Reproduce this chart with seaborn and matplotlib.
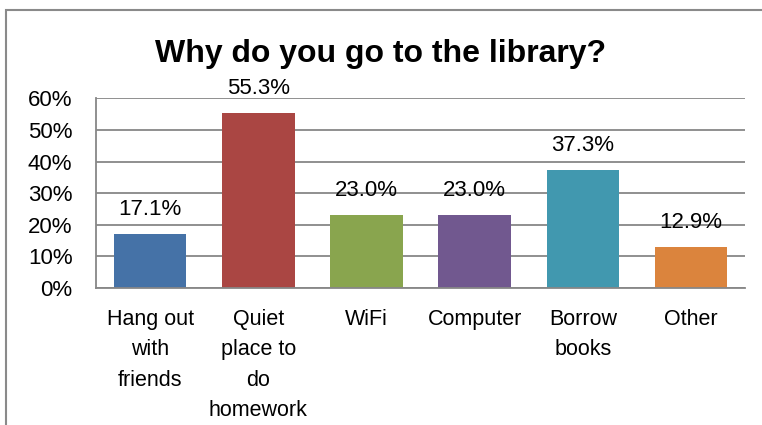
import numpy as np
import pandas as pd
import matplotlib
matplotlib.use("Agg")
import matplotlib.pyplot as plt
import seaborn as sns
from matplotlib.patches import Rectangle

# chart data
categories = ["Hang out\nwith\nfriends", "Quiet\nplace to\ndo\nhomework", "WiFi",
              "Computer", "Borrow\nbooks", "Other"]
percent = [17.1, 55.3, 23.0, 23.0, 37.3, 12.9]
bar_colors = ["#4572A7", "#AA4643", "#89A54E", "#71588F", "#4198AF", "#DB843D"]
y_ticks = [0, 10, 20, 30, 40, 50, 60]

df = pd.DataFrame({"reason": categories, "pct": percent})

sns.set_style("white")
plt.rcParams["font.family"] = ["Liberation Sans", "DejaVu Sans"]
plt.rcParams["text.color"] = "black"
plt.rcParams["xtick.labelcolor"] = "black"
plt.rcParams["ytick.labelcolor"] = "black"

fig = plt.figure(figsize=(7.62, 4.25), dpi=100)
ax = fig.add_axes([0.126, 0.322, 0.852, 0.447])

sns.barplot(data=df, x="reason", y="pct", hue="reason", palette=bar_colors,
            legend=False, width=0.67, saturation=1, linewidth=0, ax=ax)

grid_col = "#878787"
ax.set_ylim(0, 60)
ax.set_xlim(-0.5, len(categories) - 0.5)
ax.set_yticks(y_ticks)
ax.set_yticklabels([f"{t}%" for t in y_ticks], fontsize=16)
ax.yaxis.grid(True, color=grid_col, linewidth=1.3)
ax.set_axisbelow(True)
ax.tick_params(axis="y", length=10, width=1.3, color=grid_col, pad=7)

ax.set_xticks(range(len(categories)))
ax.set_xticklabels(categories, fontsize=15.5, linespacing=1.59, va="top")
ax.set_xticks(np.arange(-0.5, len(categories)), minor=True)
ax.tick_params(axis="x", which="major", length=0, pad=15)
ax.tick_params(axis="x", which="minor", length=7, width=1.3, color=grid_col,
               direction="out")
ax.set_xlabel("")
ax.set_ylabel("")

for side in ["top", "right"]:
    ax.spines[side].set_visible(False)
for side in ["left", "bottom"]:
    ax.spines[side].set_color(grid_col)
    ax.spines[side].set_linewidth(1.3)

for i, v in enumerate(percent):
    ax.annotate(f"{v:.1f}%", (i, v), xytext=(0, 10), textcoords="offset points",
                ha="center", va="bottom", fontsize=16)

fig.text(0.5, 0.872, "Why do you go to the library?", ha="center", va="center",
         fontsize=23, fontweight="bold")

# chart frame
fig.patches.append(Rectangle((6 / 762, -0.1), 1.2, 1 - 10 / 425 + 0.1,
                             transform=fig.transFigure, fill=False,
                             edgecolor="#8a8a8a", linewidth=1.5))

fig.savefig("out.png", dpi=100)
